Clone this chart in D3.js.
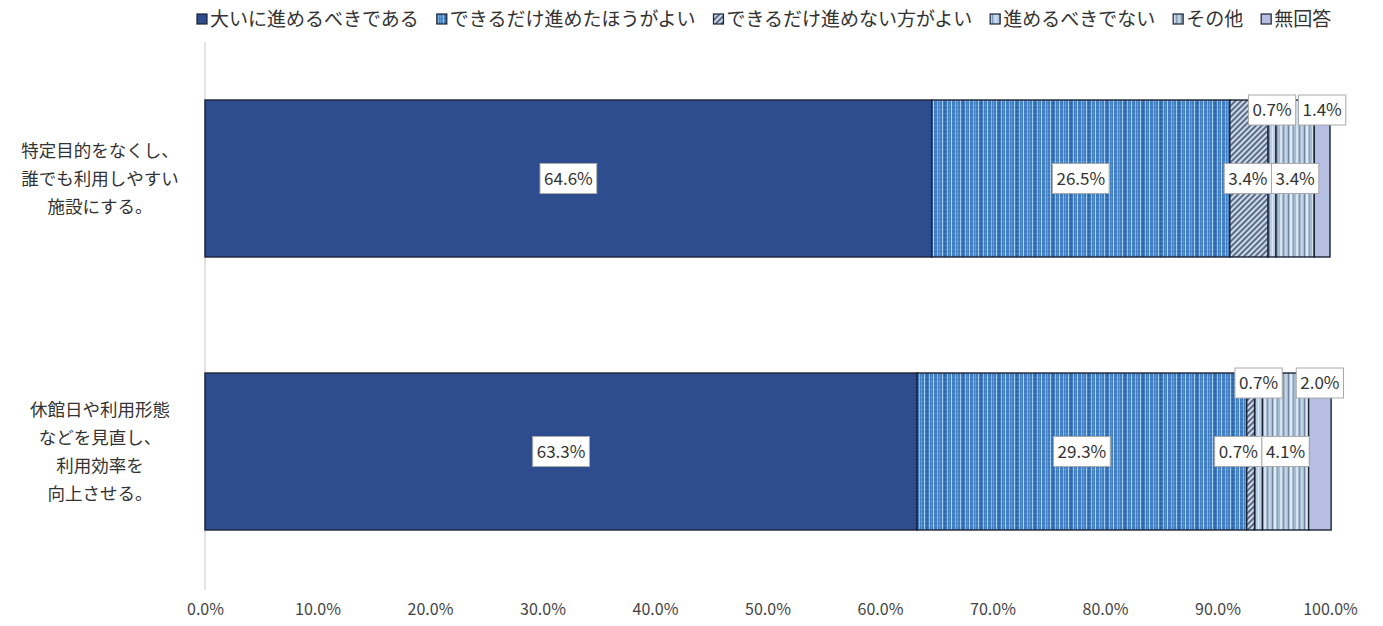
<!DOCTYPE html>
<html>
<head>
<meta charset="utf-8">
<script src="https://cdn.jsdelivr.net/npm/d3@7"></script>
<style>
  html, body { margin: 0; padding: 0; background: #fff; }
  svg { display: block; }
  text { font-family: "Noto Sans CJK JP", "Noto Sans", sans-serif; }
</style>
</head>
<body>
<svg id="chart" width="1383" height="626"></svg>
<script>
// Survey answers, percentage shares per question
const categories = [
  "特定目的をなくし、\n誰でも利用しやすい\n施設にする。",
  "休館日や利用形態\nなどを見直し、\n利用効率を\n向上させる。"
];
const seriesNames = [
  "大いに進めるべきである",
  "できるだけ進めたほうがよい",
  "できるだけ進めない方がよい",
  "進めるべきでない",
  "その他",
  "無回答"
];
const values = [
  [64.6, 26.5, 3.4, 0.7, 3.4, 1.4],
  [63.3, 29.3, 0.7, 0.7, 4.1, 2.0]
];
// label placement per series: inside the bar or lifted above it
const labelPlace = ["mid", "mid", "mid", "top", "mid", "top"];
const xTicks = [0, 10, 20, 30, 40, 50, 60, 70, 80, 90, 100];

const svg = d3.select("#chart");
const defs = svg.append("defs");

// fills for each series
function stripePattern(id, w, base, stripes) {
  const p = defs.append("pattern").attr("id", id)
    .attr("patternUnits", "userSpaceOnUse").attr("width", w).attr("height", 4);
  p.append("rect").attr("width", w).attr("height", 4).attr("fill", base);
  stripes.forEach(s => p.append("rect").attr("x", s[0]).attr("y", 0)
    .attr("width", s[1]).attr("height", 4).attr("fill", s[2]));
  return p;
}
const p2 = stripePattern("pat2", 18, "#3d7cc0", [
  [1, 1, "#7fb6e6"], [3, 1, "#5e9ad6"], [6, 1, "#9cc8ee"], [8, 2, "#2f68a8"],
  [11, 1, "#86bce8"], [13, 1, "#4f8cc9"], [15, 1, "#a8d2f2"]
]);
p2.append("rect").attr("x", 0).attr("y", 1).attr("width", 18).attr("height", 1)
  .attr("fill", "#ffffff").attr("opacity", 0.12);

const p3 = defs.append("pattern").attr("id", "pat3")
  .attr("patternUnits", "userSpaceOnUse").attr("width", 4).attr("height", 4)
  .attr("patternTransform", "rotate(45)");
p3.append("rect").attr("width", 4).attr("height", 4).attr("fill", "#d0dae6");
p3.append("rect").attr("width", 1.8).attr("height", 4).attr("fill", "#4d6080");

stripePattern("pat4", 7, "#b8cfe9", [[2, 1, "#6f8fb8"], [5, 1, "#dce8f5"]]);
stripePattern("pat5", 16, "#a8bdd2", [
  [0, 2, "#d6e2ee"], [3, 1, "#7d95b0"], [5, 2, "#c3d3e3"], [8, 1, "#6f88a6"],
  [10, 2, "#e2eaf2"], [13, 1, "#8aa3bd"]
]);

const fills = ["#2e4d8e", "url(#pat2)", "url(#pat3)", "url(#pat4)", "url(#pat5)", "#b6bee2"];

const x0 = 205, x1 = 1330;
const x = d3.scaleLinear().domain([0, 100]).range([x0, x1]);
const y = d3.scaleBand().domain(d3.range(categories.length))
  .range([42, 588]).paddingInner(0.425).paddingOuter(0.2125);

// value axis (vertical baseline)
svg.append("line").attr("x1", x(0)).attr("x2", x(0))
  .attr("y1", 42).attr("y2", 590)
  .attr("stroke", "#c8c8c8").attr("stroke-width", 1);

// tick labels along the bottom
const axis = d3.axisBottom(x).tickValues(xTicks)
  .tickFormat(d => d.toFixed(1) + "%").tickSize(0).tickPadding(0);
const gx = svg.append("g").attr("transform", "translate(0,604)").call(axis);
gx.select(".domain").remove();
gx.selectAll("text").attr("font-size", 16).attr("fill", "#444")
  .attr("font-family", "'Noto Sans', 'DejaVu Sans', sans-serif");

// stacked segments
const rows = values.map(v => {
  let acc = 0;
  return v.map((val, i) => {
    const seg = { s: i, start: acc, end: acc + val, val };
    acc += val;
    return seg;
  });
});

const gBars = svg.append("g");
rows.forEach((segs, r) => {
  gBars.selectAll(null).data(segs).enter().append("rect")
    .attr("x", d => x(d.start))
    .attr("y", y(r))
    .attr("width", d => x(d.end) - x(d.start))
    .attr("height", y.bandwidth())
    .attr("fill", d => fills[d.s])
    .attr("stroke", "#1b2233").attr("stroke-width", 1.4);
});

// data labels: a white box per value; boxes in the same lane are pushed
// left so that neighbours sit edge to edge instead of overlapping
const gLab = svg.append("g");
rows.forEach((segs, r) => {
  const items = segs.map(d => {
    const g = gLab.append("g");
    const t = g.append("text").text(d.val.toFixed(1) + "%")
      .attr("text-anchor", "middle").attr("dy", "0.36em")
      .attr("font-size", 17).attr("fill", "#333")
      .attr("font-family", "'Noto Sans', 'DejaVu Sans', sans-serif");
    const w = t.node().getComputedTextLength() + 8;
    const cx = (x(d.start) + x(d.end)) / 2;
    const cy = labelPlace[d.s] === "top" ? y(r) + 10 : y(r) + y.bandwidth() / 2;
    return { g, t, w, cx, cy, lane: labelPlace[d.s] };
  });
  ["mid", "top"].forEach(lane => {
    const li = items.filter(it => it.lane === lane);
    for (let i = li.length - 2; i >= 0; i--) {
      const a = li[i], b = li[i + 1];
      const overlap = (a.cx + a.w / 2) - (b.cx - b.w / 2);
      if (overlap > 0) a.cx -= overlap;
    }
  });
  items.forEach(it => {
    it.g.attr("transform", `translate(${it.cx},${it.cy})`);
    it.g.insert("rect", "text")
      .attr("x", -it.w / 2).attr("y", -15)
      .attr("width", it.w).attr("height", 30)
      .attr("fill", "#fff").attr("stroke", "#aaa").attr("stroke-width", 1);
  });
});

// category labels
categories.forEach((c, r) => {
  const lines = c.split("\n");
  const cy = y(r) + y.bandwidth() / 2;
  const lh = 28;
  const t = svg.append("text").attr("text-anchor", "middle")
    .attr("font-size", 17.5).attr("fill", "#333");
  lines.forEach((ln, i) => {
    t.append("tspan").attr("x", 100)
      .attr("y", cy + (i - (lines.length - 1) / 2) * lh)
      .attr("dy", "0.36em").text(ln);
  });
});

// legend
const leg = svg.append("g").attr("transform", "translate(197,19)");
let lx = 0;
seriesNames.forEach((name, i) => {
  const g = leg.append("g").attr("transform", `translate(${lx},0)`);
  g.append("rect").attr("x", 0).attr("y", -5).attr("width", 10).attr("height", 10)
    .attr("fill", fills[i]).attr("stroke", "#1b2233").attr("stroke-width", 1.2);
  const t = g.append("text").attr("x", 13).attr("dy", "0.36em")
    .attr("font-size", 19).attr("fill", "#333").text(name);
  lx += 13 + t.node().getComputedTextLength() + 18;
});
</script>
</body>
</html>
